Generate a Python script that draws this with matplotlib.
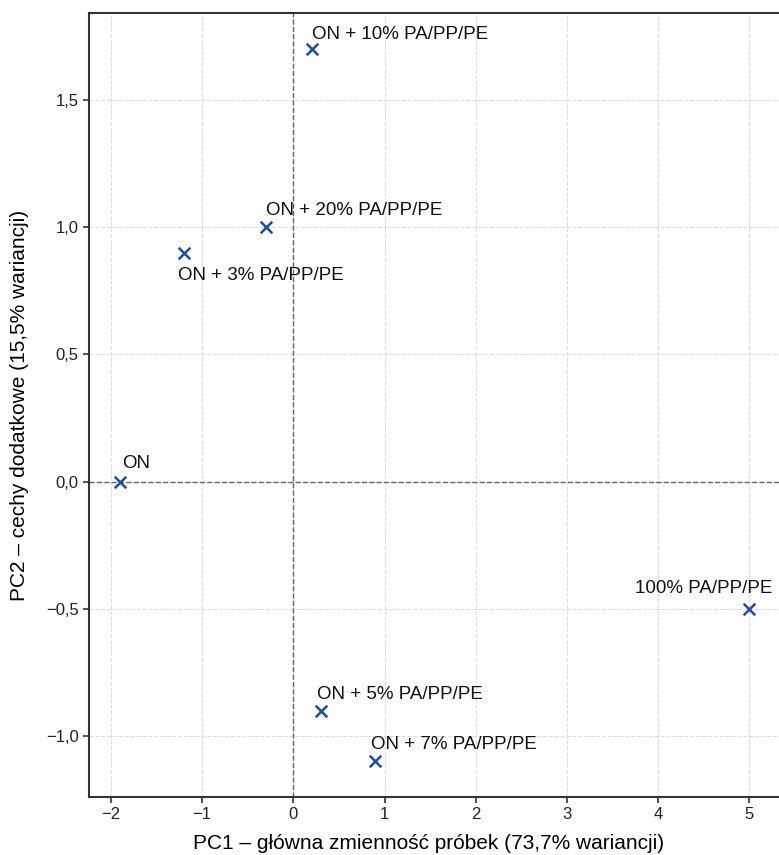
import numpy as np
import matplotlib.pyplot as plt
from matplotlib.ticker import FuncFormatter

plt.rcParams['font.family'] = ['Liberation Sans', 'DejaVu Sans']

# PCA scores for each sample
labels = ["ON", "ON + 3% PA/PP/PE", "ON + 20% PA/PP/PE", "ON + 10% PA/PP/PE",
          "ON + 5% PA/PP/PE", "ON + 7% PA/PP/PE", "100% PA/PP/PE"]
pc1 = [-1.9, -1.2, -0.3, 0.2, 0.3, 0.9, 5.0]
pc2 = [0.0, 0.9, 1.0, 1.7, -0.9, -1.1, -0.5]

# label offsets in pixels and horizontal alignment
offsets = [(2, 14), (-6, -27), (0, 12), (0, 10), (-4, 12), (-4, 12), (23, 16)]
aligns = ["left", "left", "left", "left", "left", "left", "right"]

color = "#1c4f9a"

fig = plt.figure(figsize=(7.79, 8.55), dpi=100)
ax = fig.add_axes([89/779, 58/855, (781-89)/779, (797-13)/855])

ax.grid(True, color="#dddddd", linestyle="--", linewidth=0.8)
ax.set_axisbelow(True)
ax.axhline(0, color="#666666", linestyle="--", linewidth=1, zorder=1)
ax.axvline(0, color="#666666", linestyle="--", linewidth=1, zorder=1)

ax.scatter(pc1, pc2, marker="x", s=70, linewidths=1.8, color=color, zorder=3)

for x, y, t, off, ha in zip(pc1, pc2, labels, offsets, aligns):
    ax.annotate(t, (x, y), xytext=off, textcoords="offset pixels",
                ha=ha, va="baseline", fontsize=13.5, color="#111111")

ax.set_xlim(-2.241, 5.348)
ax.set_ylim(-1.240, 1.842)
ax.set_xticks(np.arange(-2, 6, 1))
ax.set_yticks([-1.0, -0.5, 0.0, 0.5, 1.0, 1.5])

ax.xaxis.set_major_formatter(FuncFormatter(lambda v, p: f"{v:.0f}".replace("-", "\u2212")))
ax.yaxis.set_major_formatter(FuncFormatter(lambda v, p: f"{v:.1f}".replace(".", ",").replace("-", "\u2212")))

ax.tick_params(labelsize=12, color="#333333", length=4, width=1.2, labelcolor="#222222")

for side in ["top", "left", "bottom"]:
    ax.spines[side].set_color("#333333")
    ax.spines[side].set_linewidth(1.5)
ax.spines["right"].set_visible(False)

ax.set_xlabel("PC1 \u2013 g\u0142\u00f3wna zmienno\u015b\u0107 pr\u00f3bek (73,7% wariancji)", fontsize=15)
ax.set_ylabel("PC2 \u2013 cechy dodatkowe (15,5% wariancji)", fontsize=15, labelpad=12)
ax.xaxis.set_label_coords(0.49, -0.0587)
ax.xaxis.label.set_verticalalignment("center")

fig.savefig("out.png", dpi=100)
